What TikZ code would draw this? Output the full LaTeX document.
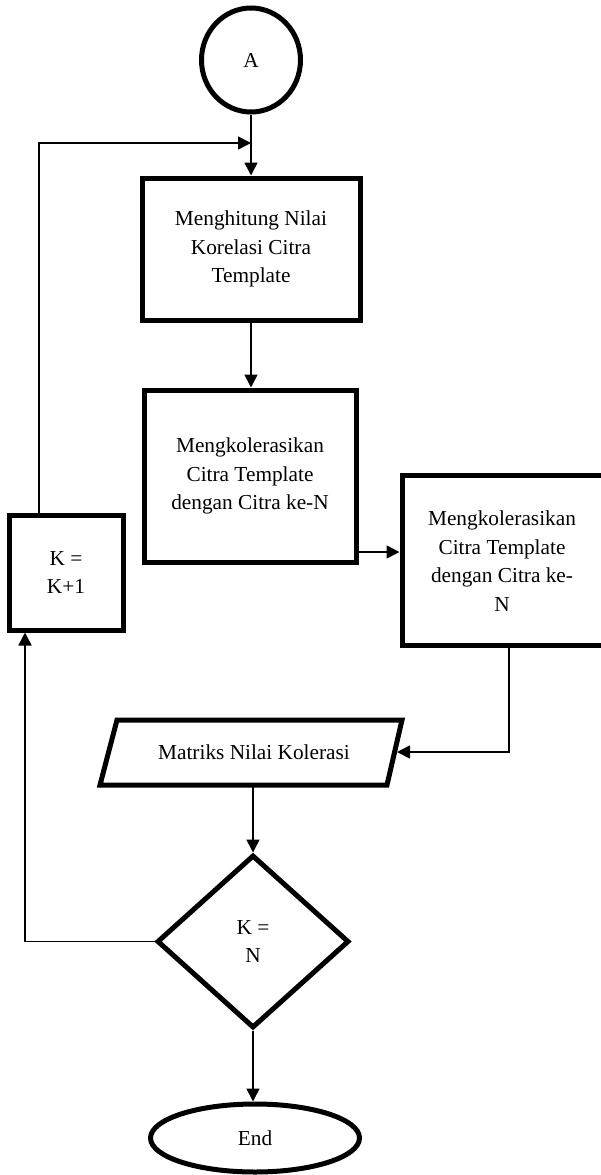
\documentclass[tikz,border=0pt]{standalone}
\usepackage{fontspec}
\setmainfont{Liberation Serif}
\usetikzlibrary{shapes.geometric,arrows.meta}
\newcommand\diagfont{\fontsize{21.3}{28.5}\selectfont}

\begin{document}
\begin{tikzpicture}[x=1pt,y=-1pt,
  shapeline/.style={draw, line width=5pt},
  box/.style={shapeline, align=center, font=\diagfont, inner sep=0pt},
  label text/.style={align=center, font=\diagfont, inner sep=0pt},
  link/.style={line width=1.6pt, -{Triangle[length=13pt,width=13pt]}},
  plain/.style={line width=1.6pt}]

  % canvas
  \clip (0,0) rectangle (601,1175);
  \fill[white] (0,0) rectangle (601,1175);

  % connector start
  \node[box, ellipse, minimum width=99, minimum height=104] (A) at (251,60) {A};

  % processing steps
  \node[box, minimum width=218, minimum height=142] (hit) at (251,249)
    {Menghitung Nilai\\Korelasi Citra\\Template};
  \node[box, minimum width=212, minimum height=172] (corr) at (250,476)
    {Mengkolerasikan\\Citra Template\\dengan Citra ke-N};
  \node[box, minimum width=202, minimum height=170] (rbox) at (503,560) {};
  \node[label text] (rtext) at (502,561)
    {Mengkolerasikan\\Citra Template\\dengan Citra ke-\\N};
  \node[box, minimum width=114, minimum height=115] (kbox) at (66,572.5)
    {K =\\K+1};

  % output parallelogram
  \draw[shapeline] (117,720) -- (402,720) -- (387,785) -- (100,785) -- cycle;
  \node[label text] (mat) at (254,752) {Matriks Nilai Kolerasi};
  \coordinate (matR) at (397,752);
  \coordinate (matB) at (253,787);

  % decision
  \node[box, diamond, minimum width=192, minimum height=173] (dec) at (253,941.5)
    {K =\\N};

  % terminator
  \node[box, ellipse, minimum width=209, minimum height=68] (endn) at (255,1138) {End};

  % routing helpers
  \coordinate (join) at (251,143);
  \coordinate (upx) at (39,0);
  \coordinate (downx) at (25,0);
  \coordinate (sidey) at (0,552);
  \coordinate (rx) at (509,0);

  % connectors
  \draw[link] (A.south) -- (A.south |- hit.north);
  \draw[link] (kbox.north -| upx) |- (join);
  \draw[link] (hit.south) -- (hit.south |- corr.north);
  \draw[link] (corr.east |- sidey) -- (rbox.west |- sidey);
  \draw[link] (rbox.south -| rx) |- (matR);
  \draw[link] (matB) -- (dec.north);
  \draw[link] (dec.west) -| (kbox.south -| downx);
  \draw[link] (dec.south) -- (dec.south |- endn.north);
\end{tikzpicture}
\end{document}
